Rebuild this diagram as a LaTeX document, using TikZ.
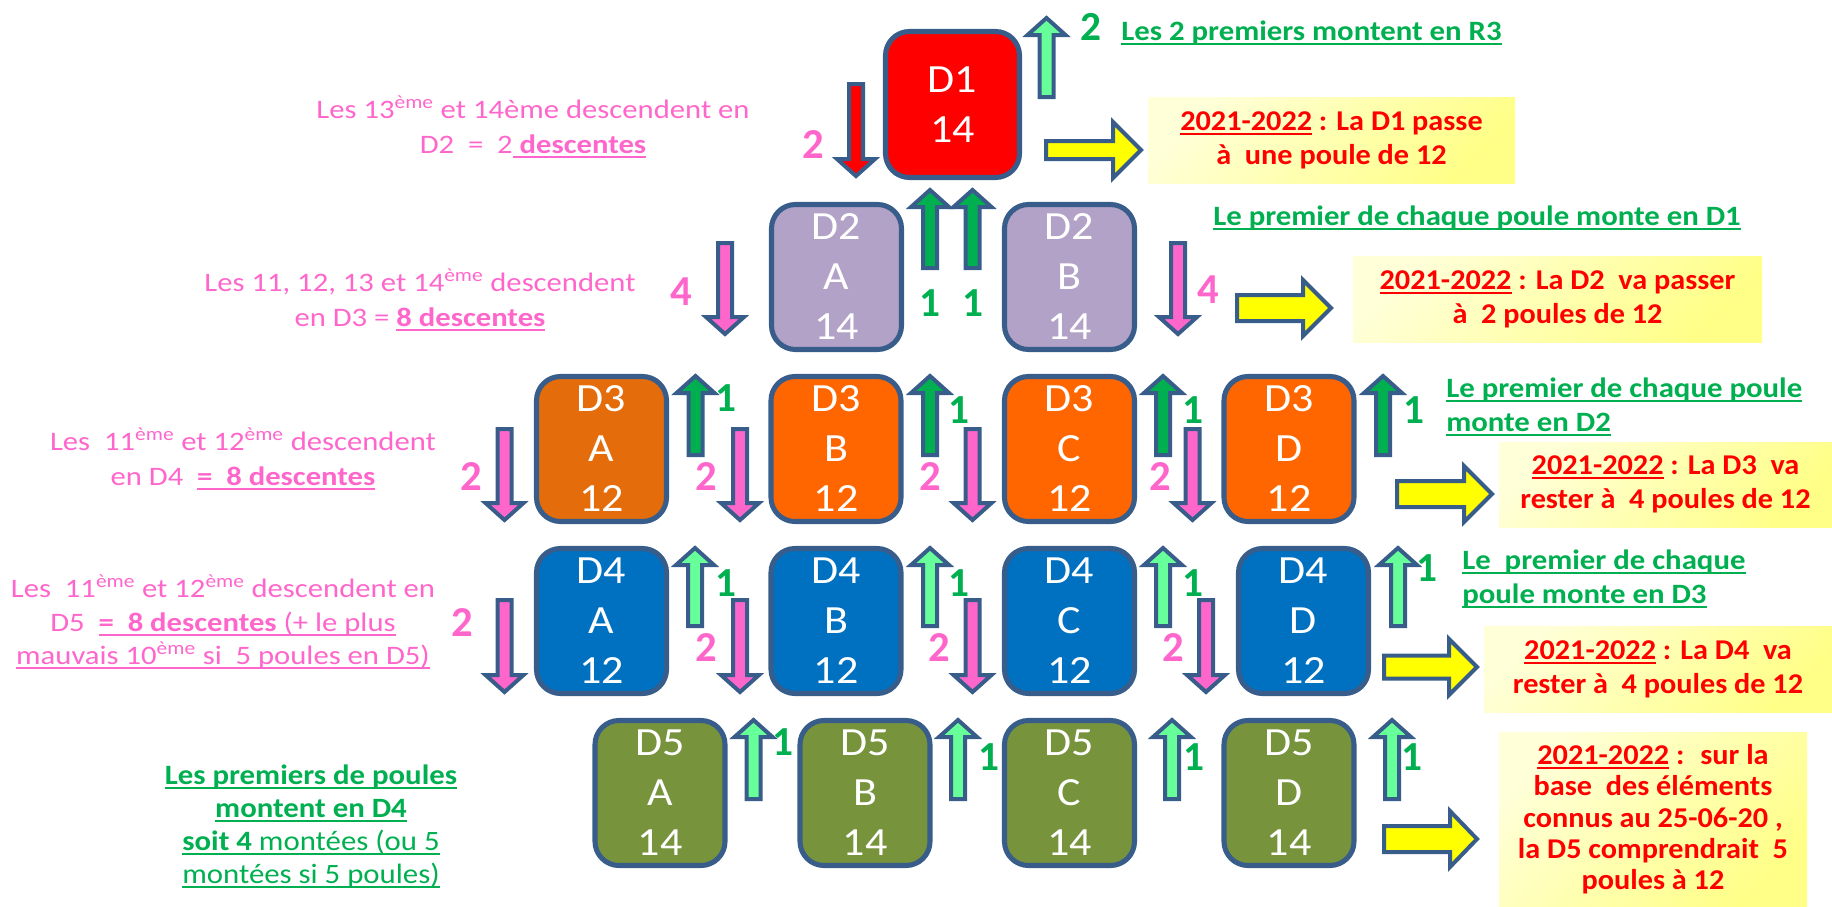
\documentclass[tikz,border=0pt]{standalone}
\usepackage{fontspec}
\setmainfont{Carlito}[FakeStretch=1.1]
\newfontfamily\pinkfont{Carlito}[FakeStretch=1.15]
\newfontfamily\yelfont{Carlito}[FakeStretch=1.055]
\newfontfamily\numfont{Carlito}
\newsavebox\ulbox
\newcommand{\uln}[1]{\sbox\ulbox{#1}\rlap{\rule[-3.4pt]{\wd\ulbox}{1.5pt}}\usebox\ulbox}
\definecolor{outl}{HTML}{385D8A}
\definecolor{pinkc}{HTML}{FF66CC}
\definecolor{greent}{HTML}{00B050}
\definecolor{mint}{HTML}{66FF99}
\definecolor{redc}{HTML}{FF0000}
\definecolor{lav}{HTML}{B3A2C7}
\definecolor{orA}{HTML}{E46C0A}
\definecolor{orB}{HTML}{FF6600}
\definecolor{bluec}{HTML}{0070C0}
\definecolor{olivec}{HTML}{77933C}
\definecolor{yel}{HTML}{FFFF00}
\definecolor{ylight}{HTML}{FFFFD8}
\definecolor{ydark}{HTML}{FFFF88}
\newcommand{\blkup}[4]{\draw[arrowline, fill=#1] (#2,#3) -- (#2+19,#3+17) -- (#2+7,#3+17) -- (#2+7,#4) -- (#2-7,#4) -- (#2-7,#3+17) -- (#2-19,#3+17) -- cycle;}
\newcommand{\blkdown}[4]{\draw[arrowline, fill=#1] (#2,#4) -- (#2+19,#4-17) -- (#2+7,#4-17) -- (#2+7,#3) -- (#2-7,#3) -- (#2-7,#4-17) -- (#2-19,#4-17) -- cycle;}
\newcommand{\blkright}[6]{\draw[arrowline, fill=#1] (#2,#5-#6) -- (#3,#5-#6) -- (#3,#5-28) -- (#4,#5) -- (#3,#5+28) -- (#3,#5+#6) -- (#2,#5+#6) -- cycle;}
\tikzset{
  divbox/.style={draw=outl, line width=3.8pt, rounded corners=18pt, minimum width=97.5pt, minimum height=108.75pt, inner sep=0pt, text=white, align=center, font=\fontsize{30}{37.5}\selectfont},
  arrowline/.style={draw=outl, line width=3pt, line join=miter},
  pinktxt/.style={text=pinkc, align=center, inner sep=0pt, font=\pinkfont\fontsize{20}{26}\selectfont},
  greentxt/.style={text=greent, align=left, inner sep=0pt, font=\bfseries\fontsize{21}{25.5}\selectfont},
  ybox/.style={top color=ylight, bottom color=ydark, shading angle=45, text=redc, align=center, inner sep=0pt, font=\yelfont\bfseries\fontsize{21.5}{25.5}\selectfont},
  pinknum/.style={text=pinkc, inner sep=0pt, font=\numfont\bfseries\fontsize{32}{32}\selectfont},
  greennum/.style={text=greent, inner sep=0pt, font=\numfont\bfseries\fontsize{31}{31}\selectfont},
}
\begin{document}
\begin{tikzpicture}[x=0.75pt, y=-0.75pt]
\useasboundingbox (0,0) rectangle (1832,907);

% ---- division boxes
\node[divbox, fill=redc, minimum width=100.5pt, minimum height=109.5pt] (d1) at (952.5,104.5) {D1\\14};
\node[divbox, fill=lav] (d2a) at (836.5,277) {D2\\A\\14};
\node[divbox, fill=lav] (d2b) at (1069.5,277) {D2\\B\\14};
\node[divbox, fill=orA] (d3a) at (601.5,449) {D3\\A\\12};
\node[divbox, fill=orB] (d3b) at (836,449) {D3\\B\\12};
\node[divbox, fill=orB] (d3c) at (1069.5,449) {D3\\C\\12};
\node[divbox, fill=orB] (d3d) at (1289,449) {D3\\D\\12};
\node[divbox, fill=bluec] (d4a) at (601.5,621) {D4\\A\\12};
\node[divbox, fill=bluec] (d4b) at (836,621) {D4\\B\\12};
\node[divbox, fill=bluec] (d4c) at (1069.5,621) {D4\\C\\12};
\node[divbox, fill=bluec] (d4d) at (1303.5,621) {D4\\D\\12};
\node[divbox, fill=olivec] (d5a) at (660,793) {D5\\A\\14};
\node[divbox, fill=olivec] (d5b) at (865,793) {D5\\B\\14};
\node[divbox, fill=olivec] (d5c) at (1069.5,793) {D5\\C\\14};
\node[divbox, fill=olivec] (d5d) at (1289,793) {D5\\D\\14};

% ---- block arrows
\blkdown{redc}{856}{84}{176}
\blkup{mint}{1046.5}{18}{97}
\blkup{greent}{930}{190}{268}
\blkup{greent}{972.5}{190}{268}
\blkdown{pinkc}{725}{243}{334}
\blkdown{pinkc}{1178}{243}{334}
\foreach \cx in {695.5,930,1163,1383} {\blkup{greent}{\cx}{376}{455}}
\foreach \cx in {504.5,740,972.5,1192.5} {\blkdown{pinkc}{\cx}{429}{520}}
\foreach \cx in {695,930,1163,1398} {\blkup{mint}{\cx}{548}{626}}
\foreach \cx in {504.5,740,972.5,1206} {\blkdown{pinkc}{\cx}{600}{692}}
\foreach \cx in {753.5,958,1172,1392} {\blkup{mint}{\cx}{720}{799}}
\blkright{yel}{1046}{1113}{1141}{150}{9}
\blkright{yel}{1237}{1303}{1331}{308}{13}
\blkright{yel}{1397}{1464}{1492}{494}{13}
\blkright{yel}{1384}{1449}{1477}{667}{11.5}
\blkright{yel}{1384}{1450}{1477}{839}{13}

% ---- number labels
\node[pinknum] (n1) at (813,145) {2};
\node[greennum] (n2) at (1091,27) {2};
\node[greennum] (n3) at (930,303) {1};
\node[greennum] (n4) at (973,303) {1};
\node[pinknum] (n5) at (681,292) {4};
\node[pinknum] (n6) at (1208,290) {4};
\node[pinknum] (r3p1) at (471,477) {2};
\node[pinknum] (r3p2) at (706,477) {2};
\node[pinknum] (r3p3) at (930,477) {2};
\node[pinknum] (r3p4) at (1160,477) {2};
\node[greennum] (r3g1) at (726,398) {1};
\node[greennum] (r3g2) at (959,410) {1};
\node[greennum] (r3g3) at (1193,410) {1};
\node[greennum] (r3g4) at (1414,410) {1};
\node[pinknum] (r4p1) at (462,623) {2};
\node[pinknum] (r4p2) at (706,648) {2};
\node[pinknum] (r4p3) at (939,648) {2};
\node[pinknum] (r4p4) at (1173,648) {2};
\node[greennum] (r4g1) at (726,583) {1};
\node[greennum] (r4g2) at (959,583) {1};
\node[greennum] (r4g3) at (1193,583) {1};
\node[greennum] (r4g4) at (1427,568) {1};
\node[greennum] (r5g1) at (783,742) {1};
\node[greennum] (r5g2) at (989,757) {1};
\node[greennum] (r5g3) at (1194,757) {1};
\node[greennum] (r5g4) at (1412,757) {1};

% ---- pink texts
\node[pinktxt] (p1) at (533,127) {Les 13\textsuperscript{ème} et 14ème descendent en\\D2 \ = \ 2\uln{ \textbf{descentes}}};
\node[pinktxt] (p2) at (420,300) {Les 11, 12, 13 et 14\textsuperscript{ème} descendent\\en D3 = \uln{\textbf{8 descentes}}};
\node[pinktxt] (p3) at (243,459) {Les \ 11\textsuperscript{ème} et 12\textsuperscript{ème} descendent\\en D4 \ \uln{\textbf{= \ 8 descentes}}};
\node[pinktxt, font=\pinkfont\fontsize{20}{25}\selectfont] (p4) at (223,622) {Les \ 11\textsuperscript{ème} et 12\textsuperscript{ème} descendent en\\D5 \ \uln{\textbf{= \ 8 descentes} (+ le plus}\\\uln{mauvais 10\textsuperscript{ème} si \ 5 poules en D5)}};

% ---- green texts
\node[greentxt, anchor=west] (g1) at (1121,33) {\uln{Les 2 premiers montent en R3}};
\node[greentxt, anchor=west] (g2) at (1213,218) {\uln{Le premier de chaque poule monte en D1}};
\node[greentxt, anchor=west] (g3) at (1446,407) {\uln{Le premier de chaque poule}\\\uln{monte en D2}};
\node[greentxt, anchor=west] (g4) at (1462,579) {\uln{Le \ premier de chaque}\\\uln{poule monte en D3}};
\node[greentxt, align=center, font=\fontsize{21}{24.75}\selectfont] (g5) at (311,826) {\uln{\textbf{Les premiers de poules}}\\\uln{\textbf{montent en D4}}\\\uln{\textbf{soit 4} montées (ou 5}\\\uln{montées si 5 poules)}};

% ---- yellow boxes
\node[ybox, minimum width=275.25pt, minimum height=64.5pt] (y1) at (1331.5,140) {\uln{2021-2022} : La D1 passe\\à \ une poule de 12};
\node[ybox, minimum width=306.75pt, minimum height=64.5pt] (y2) at (1557.5,299) {\uln{2021-2022} : La D2 \ va passer\\à \ 2 poules de 12};
\node[ybox, minimum width=249.75pt, minimum height=63.75pt] (y3) at (1665.5,484.5) {\uln{2021-2022} : La D3 \ va\\rester à \ 4 poules de 12};
\node[ybox, minimum width=261pt, minimum height=64.5pt] (y4) at (1658,669) {\uln{2021-2022} : La D4 \ va\\rester à \ 4 poules de 12};
\node[ybox, minimum width=231pt, minimum height=131.25pt, font=\yelfont\bfseries\fontsize{21.5}{23.5}\selectfont] (y5) at (1653,819.5) {\uln{2021-2022} : \ sur la\\base \ des éléments\\connus au 25-06-20 ,\\la D5 comprendrait \ 5\\poules à 12};
\end{tikzpicture}
\end{document}
